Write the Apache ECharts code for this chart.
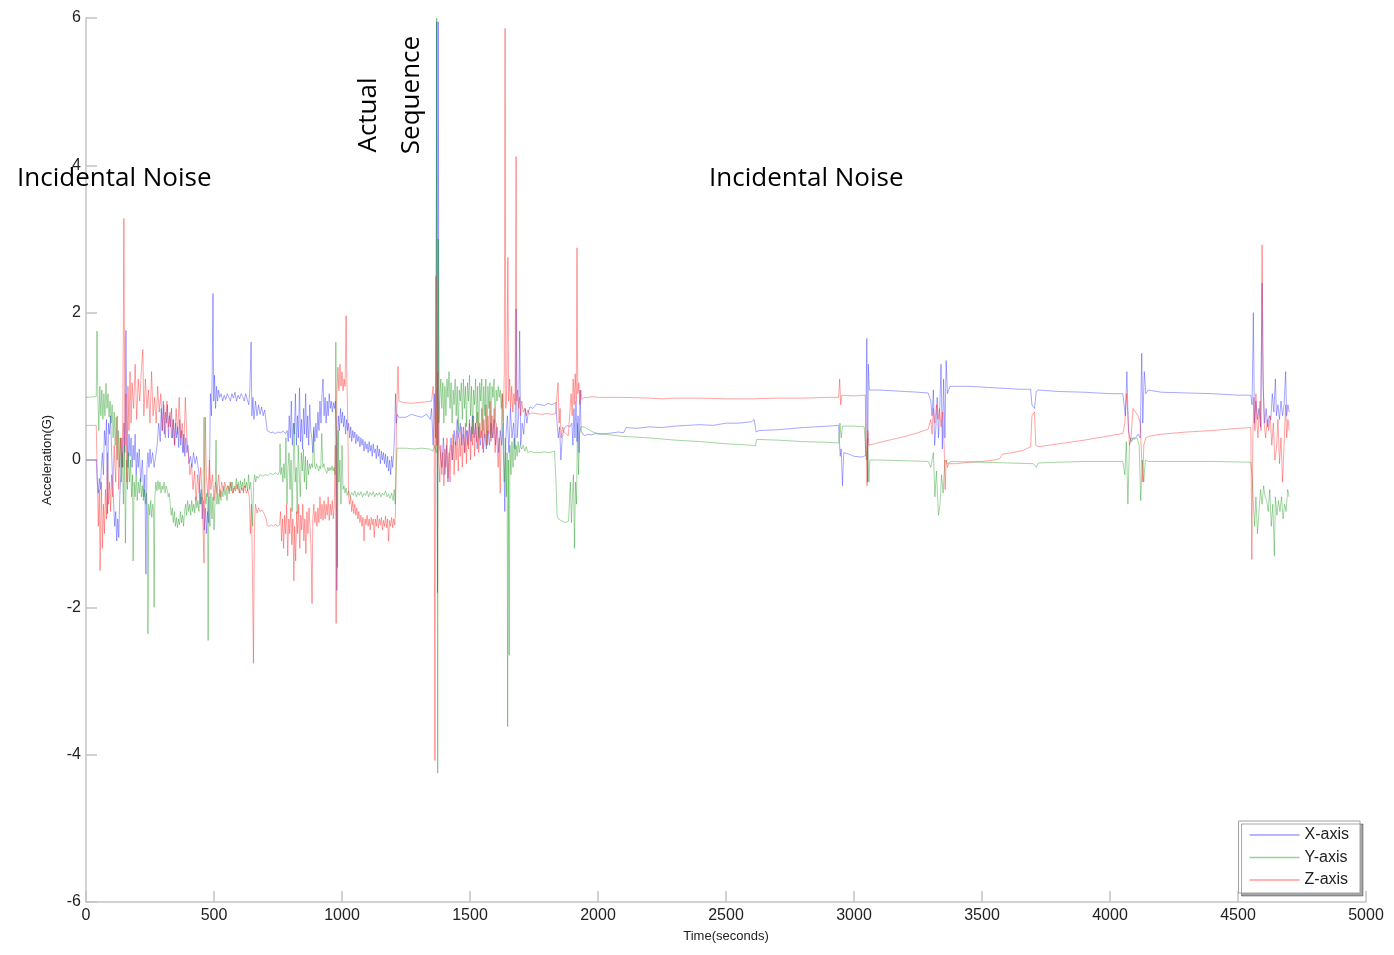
<!DOCTYPE html>
<html>
<head>
<meta charset="utf-8">
<script src="https://cdn.jsdelivr.net/npm/echarts@6/dist/echarts.min.js"></script>
<style>
html,body{margin:0;padding:0;background:#fff;}
#chart{width:1394px;height:955px;}
</style>
</head>
<body>
<div id="chart"></div>
<script>
// ---- data: [time (s), acceleration (G)] ----
const seriesNames = ['X-axis', 'Y-axis', 'Z-axis'];
const yTickValues = [-6, -4, -2, 0, 2, 4, 6];

const accelX = [
[0,0],[40,0],[44,-0.3],[48,-0.45],[52,-0.25],[56,-0.4],[60,-0.1],[64,0.1],[68,-0.2],[72,0.4],[76,0.2],[80,0.55],[84,-0.73],[88,0.5],[92,0.35],[96,0.6],[100,0.1],[104,-0.3],[108,-0.6],[112,-0.9],[116,-0.7],[120,-1.1],[124,-0.8],[128,-1.05],[132,-0.5],[136,-0.2],[140,0.3],[144,-0.1],[148,0.5],[152,0.1],[156,1.76],[160,0.3],[164,-0.1],[168,0.35],[172,0.05],[176,0.3],[180,-0.1],[184,0.2],[188,0.0],[192,0.35],[196,-0.2],[200,0.1],[204,-0.1],[208,0.15],[214,-0.3],[220,0.0],[226,-0.5],[230,-0.2],[234,-1.55],[238,-0.1],[242,0.1],[246,-0.1],[250,0.15],[254,-0.05],[260,0.1],[266,-0.1],[272,0.05],[278,0.2],[284,0.5],[290,0.25],[294,0.7],[298,0.4],[302,0.8],[306,0.35],[310,0.65],[314,0.5],[318,0.75],[322,0.3],[326,0.6],[330,0.45],[334,0.7],[338,0.3],[342,0.55],[346,0.2],[350,0.5],[354,0.3],[358,0.45],[362,0.17],[366,0.55],[370,0.2],[374,0.4],[378,0.1],[382,0.35],[386,0.05],[390,0.3],[394,0.1],[398,0.2],[402,-0.05],[408,0.05],[414,-0.1],[420,0.1],[426,-0.05],[432,0.05],[438,-0.1],[442,-0.2],[446,-0.6],[450,-0.4],[454,-0.8],[458,-0.55],[462,-0.95],[466,-0.65],[470,-1.0],[474,-0.7],[478,-0.85],[482,-0.3],[486,0.9],[490,0.6],[493,1.2],[496,2.26],[499,0.8],[502,1.15],[506,0.7],[510,1.0],[514,0.8],[518,0.95],[522,0.85],[528,0.9],[534,0.8],[540,0.88],[546,0.82],[552,0.9],[558,0.85],[564,0.8],[570,0.9],[576,0.84],[582,0.92],[588,0.8],[594,0.88],[600,0.83],[606,0.9],[612,0.86],[618,0.8],[624,0.9],[630,0.82],[636,0.75],[640,0.95],[645,1.6],[648,0.6],[652,0.85],[656,0.55],[662,0.8],[668,0.6],[674,0.75],[680,0.62],[686,0.72],[692,0.6],[698,0.68],[704,0.5],[708,0.4],[714,0.38],[722,0.37],[730,0.38],[740,0.36],[750,0.38],[760,0.37],[770,0.39],[780,0.36],[786,0.4],[790,0.25],[794,0.6],[798,0.3],[802,0.8],[806,0.2],[810,0.5],[814,0.35],[818,0.9],[822,0.2],[826,0.6],[830,0.3],[834,0.98],[838,0.25],[842,0.55],[846,0.15],[850,0.7],[854,0.35],[858,0.9],[862,0.3],[866,0.6],[870,0.2],[874,0.75],[878,0.4],[882,0.3],[886,0.1],[890,0.45],[894,0.25],[898,0.5],[902,0.3],[906,0.65],[910,0.4],[914,0.8],[918,0.5],[922,0.9],[926,1.1],[930,0.6],[934,0.85],[938,0.5],[942,0.8],[946,0.6],[950,0.9],[954,0.7],[958,0.8],[962,0.65],[966,0.78],[970,0.7],[974,0.8],[978,0.3],[980,-1.77],[983,0.2],[986,0.6],[990,0.4],[994,0.7],[998,0.5],[1002,0.65],[1006,0.45],[1010,0.6],[1014,0.35],[1018,0.55],[1022,0.4],[1026,0.5],[1030,0.3],[1034,0.45],[1038,0.25],[1042,0.4],[1046,0.3],[1050,0.38],[1054,0.22],[1058,0.35],[1062,0.25],[1066,0.32],[1070,0.18],[1074,0.3],[1078,0.2],[1082,0.28],[1086,0.12],[1090,0.25],[1094,0.15],[1098,0.22],[1102,0.1],[1106,0.25],[1110,0.12],[1114,0.2],[1118,0.05],[1122,0.22],[1126,0.1],[1130,0.15],[1134,0.02],[1138,0.2],[1142,0.05],[1146,0.15],[1150,-0.05],[1154,0.12],[1158,0.0],[1162,0.1],[1166,-0.05],[1170,0.08],[1174,-0.1],[1178,0.05],[1182,-0.15],[1186,0.0],[1190,-0.2],[1194,0.05],[1198,-0.1],[1202,0.1],[1206,0.4],[1209,0.9],[1212,0.5],[1216,0.62],[1222,0.58],[1228,0.6],
[1250,0.58],[1270,0.62],[1290,0.6],[1310,0.58],[1330,0.62],[1345,0.55],[1350,0.7],[1356,0.2],[1362,0.9],[1366,0.3],[1370,5.95],[1373,-1.8],[1376,5.95],[1379,0.2],[1384,0.1],[1390,-0.1],[1396,0.3],[1402,-0.2],[1408,0.2],[1414,-0.3],[1420,0.1],[1426,0.3],[1432,0.0],[1438,0.4],[1444,0.2],[1450,0.55],[1456,0.3],[1462,0.5],[1468,0.2],[1474,0.45],[1480,0.1],[1486,0.4],[1492,0.2],[1498,0.5],[1504,0.25],[1510,0.6],[1516,0.3],[1522,0.5],[1528,0.15],[1534,0.45],[1540,0.2],[1546,0.4],[1552,0.1],[1558,0.35],[1564,0.15],[1570,0.4],[1576,0.2],[1582,0.5],[1588,0.3],[1594,0.55],[1600,0.2],[1606,0.45],[1612,0.1],[1618,0.4],[1624,0.2],[1630,0.5],[1636,-0.7],[1640,0.3],[1646,0.6],[1652,0.1],[1658,0.7],[1664,0.3],[1670,0.5],[1676,0.15],[1680,2.05],[1684,0.3],[1690,0.6],[1694,1.75],[1698,0.2],[1704,0.5],[1710,0.35],[1716,0.7],[1722,0.5],[1728,0.65],[1734,0.72],[1745,0.7],[1760,0.76],[1775,0.75],[1790,0.74],[1805,0.77],[1820,0.75],[1835,0.78],[1840,0.5],[1845,0.3],[1850,0.45],[1855,0.0],[1860,0.3],[1866,0.4],[1872,0.45],[1880,0.47],[1890,0.45],[1898,0.5],[1902,0.2],[1906,0.7],[1910,0.3],[1914,0.8],[1918,0.25],[1922,0.6],[1926,0.1],[1930,0.95],[1934,0.4],[1940,0.35],[1950,0.33],[1960,0.35],[1975,0.34],[1990,0.36],
[2005,0.35],[2040,0.36],[2080,0.38],[2100,0.37],[2110,0.44],[2150,0.43],[2200,0.45],[2250,0.44],[2300,0.46],[2350,0.47],[2400,0.48],[2450,0.47],[2500,0.5],[2550,0.5],[2600,0.52],[2610,0.55],[2618,0.38],[2630,0.4],[2700,0.41],[2800,0.44],[2900,0.46],[2940,0.47],[2946,0.05],[2950,0.15],[2955,-0.35],[2960,0.1],[2980,0.08],[3000,0.05],[3030,0.04],[3045,0.06],[3050,1.65],[3053,-0.3],[3056,1.3],[3060,0.95],[3100,0.95],[3150,0.94],[3200,0.93],[3250,0.92],[3290,0.91],[3300,0.8],[3305,0.6],[3310,0.95],[3315,0.2],[3320,0.45],[3325,0.85],[3330,0.3],[3335,0.7],[3340,1.3],[3345,0.15],[3350,1.1],[3355,0.3],[3360,1.35],[3365,0.9],[3375,1.0],[3400,1.0],[3450,1.0],[3500,0.99],[3550,0.98],[3600,0.97],[3650,0.96],[3690,0.96],[3695,0.75],[3705,0.7],[3712,0.93],[3720,0.95],[3800,0.93],[3900,0.92],[4000,0.9],[4050,0.9],[4060,0.6],[4066,1.2],[4072,0.4],[4078,0.3],[4084,0.25],[4090,0.3],[4100,0.3],[4110,0.35],[4118,0.3],[4124,1.45],[4128,0.5],[4134,1.2],[4140,0.9],[4150,0.95],[4200,0.92],[4300,0.91],[4400,0.9],[4500,0.88],[4550,0.88],[4555,0.75],[4560,2.0],[4564,0.5],[4570,0.8],[4576,0.55],[4582,0.7],[4588,0.45],[4594,2.4],[4598,1.0],[4604,0.5],[4610,0.7],[4616,0.45],[4622,0.6],[4628,0.55],[4634,0.9],[4640,0.65],[4646,1.1],[4650,0.6],[4656,0.75],[4662,0.55],[4668,0.8],[4674,0.6],[4680,0.75],[4686,1.2],[4690,0.6],[4695,0.75],[4700,0.65]
];

const accelY = [
[0,0.85],[40,0.86],[43,1.75],[46,0.9],[50,0.4],[54,1.0],[58,0.6],[62,0.95],[66,0.55],[70,0.9],[74,0.6],[78,1.04],[82,0.7],[86,0.9],[90,0.58],[94,0.8],[98,0.5],[102,0.75],[106,0.3],[110,0.65],[114,0.2],[118,0.58],[122,0.0],[126,0.4],[130,-0.1],[134,0.3],[138,-0.3],[142,0.1],[146,-0.6],[150,0.2],[154,-1.13],[158,0.0],[162,-0.4],[166,0.1],[170,-0.3],[174,0.0],[178,-0.5],[182,-0.2],[184,-1.37],[188,-0.3],[192,-0.5],[196,-0.2],[200,-0.55],[204,-0.3],[208,-0.45],[212,-0.25],[216,-0.5],[220,-0.35],[224,-0.55],[228,-0.4],[232,-0.6],[236,-0.45],[240,-0.7],[242,-2.36],[245,-0.6],[249,-0.75],[253,-0.55],[257,-0.78],[261,-0.6],[264,-0.7],[266,-2.0],[269,-0.5],[273,-0.3],[277,-0.42],[281,-0.28],[285,-0.4],[289,-0.3],[293,-0.45],[297,-0.35],[301,-0.4],[305,-0.3],[309,-0.45],[313,-0.35],[317,-0.4],[321,-0.5],[325,-0.45],[329,-0.6],[333,-0.75],[337,-0.65],[341,-0.85],[345,-0.7],[349,-0.9],[353,-0.78],[357,-0.92],[361,-0.8],[365,-0.88],[369,-0.7],[373,-0.85],[377,-0.75],[381,-0.9],[385,-0.7],[389,-0.6],[393,-0.75],[397,-0.55],[401,-0.7],[405,-0.6],[409,-0.75],[413,-0.55],[417,-0.7],[421,-0.6],[425,-0.72],[429,-0.5],[433,-0.65],[437,-0.55],[441,-0.7],[445,-0.45],[449,-0.6],[453,-0.5],[457,-0.55],[461,0.58],[464,-0.4],[468,-0.6],[472,-0.45],[475,-0.7],[477,-2.45],[480,-0.5],[484,-0.9],[488,-0.45],[492,-0.8],[496,-0.5],[500,-0.95],[504,-0.55],[508,0.27],[511,-0.6],[515,-0.45],[519,-0.6],[523,-0.4],[527,-0.55],[531,-0.42],[535,-0.5],[539,-0.35],[543,-0.48],[547,-0.4],[551,-0.55],[555,-0.35],[559,-0.46],[563,-0.3],[567,-0.42],[571,-0.3],[575,-0.45],[579,-0.35],[583,-0.4],[587,-0.25],[591,-0.4],[595,-0.3],[599,-0.45],[603,-0.28],[607,-0.4],[611,-0.3],[615,-0.45],[619,-0.25],[623,-0.38],[627,-0.3],[631,-0.42],[635,-0.2],[639,-0.4],[643,-0.3],[647,-0.5],[651,-0.9],[655,-0.3],[659,-0.2],[663,-0.3],[667,-0.22],[672,-0.25],[680,-0.2],[690,-0.22],[700,-0.2],[710,-0.21],[720,-0.18],[730,-0.2],[740,-0.17],[750,-0.2],[756,-0.15],[758,0.22],[761,-0.2],[765,-0.1],[769,-0.3],[773,-0.05],[777,-0.25],[781,0.3],[785,-0.6],[789,-0.1],[793,0.1],[797,-0.4],[801,0.0],[805,-0.7],[809,-0.15],[813,0.5],[817,-0.3],[821,-0.1],[825,-0.73],[829,0.2],[833,-0.2],[837,-0.5],[841,0.1],[845,-0.15],[849,0.15],[853,-0.3],[857,0.05],[861,-0.4],[865,0.0],[869,-0.2],[873,-0.05],[877,-0.12],[881,-0.05],[885,-0.1],[889,0.4],[893,-0.08],[897,-0.12],[901,-0.05],[905,-0.1],[909,-0.15],[913,-0.08],[917,-0.12],[921,0.36],[925,-0.1],[929,-0.05],[933,-0.12],[937,-0.1],[941,-0.18],[945,-0.1],[949,-0.15],[953,-0.1],[957,-0.14],[961,-0.08],[965,-0.15],[969,-0.1],[973,-0.2],[976,1.6],[979,-0.3],[982,-1.46],[985,0.4],[988,-0.3],[992,0.0],[996,-0.6],[1000,0.2],[1004,-0.4],[1008,-0.35],[1012,-0.45],[1016,-0.38],[1020,-0.48],[1026,-0.42],[1032,-0.5],[1038,-0.44],[1044,-0.48],[1050,-0.42],[1056,-0.5],[1062,-0.44],[1068,-0.48],[1074,-0.43],[1080,-0.5],[1086,-0.45],[1092,-0.48],[1098,-0.42],[1104,-0.5],[1110,-0.44],[1116,-0.48],[1122,-0.43],[1128,-0.5],[1134,-0.45],[1140,-0.48],[1146,-0.44],[1152,-0.5],[1158,-0.45],[1164,-0.48],[1170,-0.42],[1176,-0.5],[1182,-0.46],[1188,-0.52],[1194,-0.45],[1200,-0.55],[1204,-0.4],[1208,-0.6],[1212,-0.1],[1215,0.16],[1222,0.15],
[1250,0.16],[1280,0.15],[1310,0.16],[1340,0.15],[1355,0.12],[1362,0.2],[1368,0.1],[1370,6.0],[1372,-1.0],[1374,-4.25],[1376,3.0],[1378,0.5],[1382,0.8],[1386,1.1],[1390,0.7],[1394,1.05],[1398,0.5],[1402,1.0],[1406,0.6],[1410,1.1],[1414,0.85],[1418,1.2],[1422,0.7],[1426,1.05],[1430,0.5],[1434,0.95],[1438,0.75],[1442,1.1],[1446,0.6],[1450,1.0],[1454,0.4],[1458,0.95],[1462,0.8],[1466,1.05],[1470,0.55],[1474,1.1],[1478,0.7],[1482,1.0],[1486,0.45],[1490,1.05],[1494,0.8],[1498,1.15],[1502,0.6],[1506,1.0],[1510,0.35],[1514,0.95],[1518,0.75],[1522,1.1],[1526,0.5],[1530,1.0],[1534,0.3],[1538,1.05],[1542,0.8],[1546,1.1],[1550,0.4],[1554,1.0],[1558,0.6],[1562,1.1],[1566,0.2],[1570,1.0],[1574,0.7],[1578,1.05],[1582,0.3],[1586,1.0],[1590,0.85],[1594,1.1],[1598,0.5],[1602,0.95],[1606,0.8],[1610,1.0],[1614,0.85],[1618,0.95],[1622,0.7],[1626,0.9],[1630,0.1],[1634,-0.3],[1638,0.3],[1642,-0.5],[1645,0.1],[1647,-3.62],[1650,0.0],[1653,-2.65],[1656,0.2],[1660,-0.2],[1664,0.25],[1668,-0.1],[1672,0.3],[1676,0.0],[1680,0.2],[1684,0.05],[1688,0.25],[1692,0.1],[1696,0.2],[1702,0.15],[1708,0.2],[1714,0.12],[1720,0.18],[1726,0.1],[1735,0.12],[1750,0.1],[1770,0.1],[1790,0.11],[1810,0.1],[1830,0.12],[1836,-0.3],[1840,-0.75],[1845,-0.8],[1855,-0.82],[1865,-0.84],[1875,-0.85],[1885,-0.83],[1892,-0.3],[1896,-0.85],[1900,-0.5],[1904,-0.2],[1908,-1.2],[1912,-0.3],[1916,-0.6],[1920,0.5],[1924,-0.2],[1928,0.35],[1934,0.45],[1945,0.45],[1960,0.42],[1980,0.38],
[2000,0.36],[2050,0.34],[2100,0.32],[2200,0.3],[2300,0.27],[2400,0.25],[2500,0.22],[2600,0.2],[2615,0.19],[2620,0.28],[2700,0.27],[2800,0.25],[2900,0.24],[2940,0.23],[2945,0.5],[2950,0.3],[2955,0.46],[3000,0.46],[3040,0.45],[3048,0.0],[3053,0.3],[3058,-0.3],[3062,0.0],[3100,0.0],[3200,-0.01],[3290,-0.02],[3300,-0.1],[3310,0.1],[3316,-0.5],[3322,-0.15],[3330,-0.75],[3336,-0.6],[3342,-0.2],[3348,-0.45],[3355,0.0],[3365,-0.05],[3380,-0.02],[3500,-0.03],[3600,-0.04],[3700,-0.05],[3712,-0.1],[3720,-0.04],[3800,-0.03],[3900,-0.02],[4000,-0.02],[4050,-0.02],[4058,-0.2],[4064,0.25],[4070,-0.6],[4076,0.2],[4082,0.3],[4094,0.28],[4106,0.3],[4114,0.2],[4120,-0.55],[4126,0.0],[4132,-0.3],[4138,0.0],[4150,-0.02],[4300,-0.02],[4400,-0.02],[4550,-0.03],[4555,-0.2],[4560,-0.6],[4565,-0.9],[4570,-0.5],[4576,-1.0],[4582,-0.7],[4588,-0.4],[4594,-0.6],[4600,-0.35],[4606,-0.5],[4612,-0.55],[4618,-0.7],[4624,-0.4],[4630,-0.9],[4636,-0.6],[4642,-1.3],[4646,-0.5],[4652,-0.75],[4658,-0.55],[4664,-0.7],[4670,-0.5],[4676,-0.8],[4682,-0.6],[4688,-0.7],[4694,-0.4],[4700,-0.5]
];

const accelZ = [
[0,0.47],[40,0.47],[44,-0.2],[48,-0.9],[52,-0.4],[55,-1.5],[60,-0.3],[64,-1.2],[68,-0.6],[72,-1.0],[76,-0.4],[80,-0.8],[84,0.1],[88,-0.6],[92,-0.3],[96,-0.7],[100,-0.2],[104,-0.5],[110,0.2],[116,-0.3],[122,0.6],[128,-0.4],[134,0.3],[140,-0.1],[144,0.6],[148,3.28],[152,0.2],[156,0.9],[160,-0.3],[164,1.0],[168,0.4],[172,1.2],[176,0.5],[180,1.05],[186,0.7],[192,1.3],[198,0.55],[204,1.1],[210,0.8],[216,1.2],[222,1.5],[226,0.6],[232,1.1],[238,0.7],[244,0.95],[250,0.5],[256,1.2],[262,0.6],[268,0.85],[274,0.5],[280,1.0],[286,0.65],[292,0.9],[298,0.4],[304,0.75],[310,0.3],[316,0.8],[322,0.45],[328,0.65],[334,0.3],[340,0.55],[346,0.2],[352,0.7],[358,0.35],[364,0.85],[370,0.3],[376,0.5],[382,0.1],[388,0.85],[394,0.3],[400,0.1],[406,-0.2],[412,-0.05],[418,-0.4],[424,-0.15],[430,-0.55],[436,-0.2],[442,-0.45],[448,-0.1],[454,-0.5],[461,-1.4],[466,0.58],[470,-0.2],[476,-0.5],[482,0.0],[488,-0.4],[494,-0.2],[500,-0.55],[506,-0.3],[512,-0.45],[518,-0.2],[524,-0.5],[530,-0.3],[536,-0.42],[542,-0.3],[548,-0.4],[554,-0.35],[560,-0.42],[566,-0.3],[572,-0.45],[578,-0.38],[584,-0.42],[590,-0.33],[596,-0.4],[602,-0.45],[608,-0.38],[614,-0.42],[620,-0.35],[626,-0.45],[632,-0.4],[638,-0.5],[642,-1.0],[646,-0.6],[650,-1.45],[654,-2.76],[658,-0.9],[662,-0.6],[668,-0.72],[674,-0.65],[680,-0.7],[688,-0.68],[696,-0.73],[704,-0.8],[708,-0.89],[716,-0.9],[724,-0.88],[732,-0.9],[740,-0.87],[748,-0.9],[756,-0.88],[760,-0.7],[764,-1.1],[768,-0.8],[772,-1.2],[776,-0.75],[780,-1.0],[784,-0.6],[788,-1.3],[792,-0.8],[796,-1.0],[800,-0.65],[804,-1.15],[808,-0.8],[812,-1.64],[815,-0.9],[819,-1.37],[823,-0.7],[827,-1.0],[831,-0.6],[835,-1.2],[839,-0.75],[843,-0.95],[847,-0.6],[851,-1.1],[855,-0.8],[859,-1.27],[863,-0.7],[867,-1.0],[871,-0.65],[875,-0.9],[879,-1.2],[883,-1.95],[886,-0.8],[890,-0.6],[894,-0.85],[898,-0.7],[902,-0.9],[906,-0.65],[910,-0.85],[914,-0.5],[918,-0.8],[922,-0.6],[926,-0.82],[930,-0.55],[934,-0.8],[938,-0.6],[942,-0.75],[946,-0.5],[950,-0.82],[954,-0.6],[958,-0.75],[962,-0.55],[966,-0.8],[970,-0.6],[974,0.2],[977,-2.22],[980,0.9],[984,1.26],[988,0.94],[992,1.3],[996,1.0],[1000,1.2],[1004,0.94],[1008,1.1],[1012,1.0],[1016,1.96],[1019,1.1],[1022,0.6],[1026,-0.5],[1030,-0.6],[1034,-0.5],[1038,-0.7],[1042,-0.55],[1046,-0.73],[1050,-0.6],[1054,-0.75],[1058,-0.65],[1062,-0.8],[1066,-0.7],[1070,-0.85],[1074,-0.75],[1078,-0.9],[1082,-0.78],[1086,-1.1],[1090,-0.8],[1094,-0.88],[1098,-0.75],[1102,-0.9],[1106,-0.8],[1110,-0.95],[1114,-0.78],[1118,-0.88],[1122,-0.8],[1126,-1.05],[1130,-0.8],[1134,-0.9],[1138,-0.75],[1142,-0.92],[1146,-0.8],[1150,-0.88],[1154,-0.78],[1158,-0.95],[1162,-0.82],[1166,-0.9],[1170,-0.76],[1174,-0.92],[1178,-0.8],[1182,-1.1],[1186,-0.82],[1190,-0.9],[1194,-0.78],[1198,-0.92],[1202,-0.8],[1206,-0.88],[1209,-0.7],[1212,0.3],[1215,0.85],[1219,1.27],[1222,0.8],
[1240,0.78],[1270,0.77],[1300,0.78],[1330,0.79],[1350,0.8],[1356,1.0],[1360,0.6],[1363,-4.08],[1365,0.5],[1367,2.5],[1370,0.2],[1374,1.2],[1378,0.0],[1382,-0.3],[1386,0.2],[1390,-0.2],[1394,0.1],[1398,-0.35],[1402,0.15],[1406,-0.1],[1410,0.3],[1414,-0.25],[1418,0.1],[1422,-0.3],[1426,0.2],[1430,0.0],[1434,0.35],[1438,-0.2],[1442,0.25],[1446,0.0],[1450,0.4],[1454,-0.15],[1458,0.3],[1462,0.05],[1466,0.45],[1470,-0.1],[1474,0.35],[1478,0.1],[1482,0.5],[1486,-0.05],[1490,0.4],[1494,0.15],[1498,0.55],[1502,0.0],[1506,0.45],[1510,0.2],[1514,0.6],[1518,0.05],[1522,0.5],[1526,0.25],[1530,0.65],[1534,0.1],[1538,0.5],[1542,0.3],[1546,0.7],[1550,0.15],[1554,0.55],[1558,0.3],[1562,0.75],[1566,0.2],[1570,0.6],[1574,0.35],[1578,0.8],[1582,0.25],[1586,0.6],[1590,0.3],[1594,0.7],[1598,0.1],[1602,0.5],[1606,0.2],[1610,-0.1],[1614,0.3],[1618,-0.45],[1622,0.4],[1626,0.9],[1630,0.5],[1634,1.2],[1637,5.86],[1640,0.7],[1644,1.0],[1648,2.75],[1651,0.8],[1655,1.1],[1659,0.7],[1663,1.0],[1667,0.65],[1671,0.9],[1676,0.75],[1680,4.12],[1683,0.8],[1686,0.95],[1690,0.7],[1694,0.85],[1698,0.6],[1702,0.8],[1708,0.65],[1714,0.7],[1720,0.6],[1726,0.68],[1732,0.62],[1740,0.64],[1760,0.63],[1780,0.62],[1800,0.63],[1820,0.62],[1835,0.63],[1840,0.9],[1844,1.05],[1848,0.5],[1852,0.7],[1856,0.3],[1862,0.45],[1868,0.38],[1876,0.35],[1884,0.33],[1890,0.32],[1895,0.9],[1899,0.6],[1903,1.1],[1907,0.75],[1911,1.17],[1915,0.8],[1918,2.88],[1921,0.9],[1925,1.05],[1929,0.75],[1933,0.95],[1937,0.82],[1945,0.85],[1960,0.85],[1980,0.86],
[2000,0.85],[2100,0.85],[2200,0.84],[2250,0.83],[2300,0.84],[2400,0.84],[2500,0.83],[2600,0.83],[2700,0.84],[2800,0.84],[2900,0.85],[2940,0.85],[2944,1.1],[2948,0.75],[2952,0.88],[3000,0.87],[3044,0.88],[3048,0.2],[3051,-0.35],[3054,0.4],[3058,0.2],[3100,0.24],[3150,0.28],[3200,0.32],[3250,0.37],[3290,0.42],[3300,0.55],[3305,0.35],[3310,0.7],[3316,0.5],[3322,0.75],[3328,0.55],[3334,0.7],[3340,0.45],[3346,0.65],[3352,0.2],[3356,-0.4],[3360,0.0],[3365,-0.1],[3370,-0.05],[3400,-0.05],[3450,-0.03],[3500,-0.02],[3550,0.0],[3570,0.02],[3580,0.08],[3620,0.1],[3660,0.13],[3690,0.18],[3695,0.6],[3705,0.65],[3710,0.2],[3720,0.18],[3800,0.22],[3900,0.27],[4000,0.33],[4050,0.36],[4058,0.5],[4064,0.9],[4070,0.6],[4076,0.2],[4082,0.3],[4090,0.7],[4100,0.65],[4110,0.6],[4118,0.5],[4124,0.0],[4128,-0.3],[4132,0.2],[4140,0.3],[4150,0.32],[4200,0.35],[4300,0.38],[4400,0.4],[4500,0.43],[4550,0.44],[4554,-1.35],[4558,0.3],[4562,0.85],[4566,0.4],[4570,0.9],[4574,0.5],[4578,0.3],[4582,0.6],[4586,0.8],[4590,0.4],[4594,2.92],[4598,1.2],[4602,0.5],[4608,0.3],[4614,0.55],[4620,0.4],[4626,0.6],[4632,0.2],[4638,0.5],[4644,0.0],[4650,0.15],[4656,0.55],[4662,-0.05],[4668,0.3],[4674,-0.3],[4680,0.2],[4686,0.75],[4690,0.3],[4695,0.55],[4700,0.4]
];

const lineColors = ['rgba(40,40,255,0.45)', 'rgba(0,140,0,0.4)', 'rgba(255,30,30,0.45)'];
const annotationTexts = ['Incidental Noise', 'Actual', 'Sequence', 'Incidental Noise'];

// ---- chart ----
const chart = echarts.init(document.getElementById('chart'), null, {renderer: 'canvas'});
const axisGray = '#c4c4c4';
const labelFont = {fontFamily: 'Liberation Sans, Arial, sans-serif', fontSize: 16, color: '#222'};
const allSeries = [accelX, accelY, accelZ].map((d, i) => ({
  name: seriesNames[i],
  type: 'line',
  data: d,
  showSymbol: false,
  symbol: 'none',
  animation: false,
  lineStyle: {width: 0.9, color: lineColors[i]},
  itemStyle: {color: lineColors[i]},
  emphasis: {disabled: true}
}));

const annoFont = '26px "Open Sans", "Noto Sans", sans-serif';
chart.setOption({
  animation: false,
  backgroundColor: '#fff',
  grid: {left: 86, right: 28, top: 18, bottom: 53, containLabel: false},
  xAxis: {
    type: 'value', min: 0, max: 5000, interval: 500,
    name: 'Time(seconds)', nameLocation: 'middle', nameGap: 28,
    nameTextStyle: {fontFamily: 'Liberation Sans, Arial, sans-serif', fontSize: 13, color: '#222'},
    axisLine: {show: true, onZero: false, lineStyle: {color: axisGray, width: 1.5}},
    axisTick: {show: true, inside: true, length: 11, lineStyle: {color: axisGray, width: 1.5}},
    axisLabel: Object.assign({margin: 6, formatter: v => String(v)}, labelFont),
    splitLine: {show: false}
  },
  yAxis: {
    type: 'value', min: yTickValues[0], max: yTickValues[yTickValues.length - 1], interval: 2,
    name: 'Acceleration(G)', nameLocation: 'middle', nameGap: 32, nameRotate: 90,
    nameTextStyle: {fontFamily: 'Liberation Sans, Arial, sans-serif', fontSize: 13, color: '#222'},
    axisLine: {show: true, onZero: false, lineStyle: {color: axisGray, width: 1.5}},
    axisTick: {show: true, inside: true, length: 11, lineStyle: {color: axisGray, width: 1.5}},
    axisLabel: Object.assign({margin: 5, formatter: v => String(v)}, labelFont),
    splitLine: {show: false}
  },
  legend: {
    orient: 'vertical',
    right: 34, bottom: 62,
    data: seriesNames,
    icon: 'rect',
    itemWidth: 50, itemHeight: 1.5,
    itemGap: 4.5,
    padding: [5, 11, 4, 11],
    backgroundColor: '#fff',
    borderColor: '#a0a0a0', borderWidth: 1,
    shadowColor: 'rgba(0,0,0,0.35)', shadowOffsetX: 3, shadowOffsetY: 3, shadowBlur: 0,
    textStyle: {fontFamily: 'Liberation Sans, Arial, sans-serif', fontSize: 16, color: '#222', lineHeight: 18},
    selectedMode: false
  },
  graphic: [
    {type: 'text', z: 100, left: 17, top: 166, style: {text: annotationTexts[0], font: annoFont, fill: '#000'}},
    {type: 'text', z: 100, x: 369, y: 115, rotation: Math.PI / 2, style: {text: annotationTexts[1], font: annoFont, fill: '#000', textAlign: 'center', textVerticalAlign: 'middle'}},
    {type: 'text', z: 100, x: 412, y: 95, rotation: Math.PI / 2, style: {text: annotationTexts[2], font: annoFont, fill: '#000', textAlign: 'center', textVerticalAlign: 'middle'}},
    {type: 'text', z: 100, left: 709, top: 166, style: {text: annotationTexts[3], font: annoFont, fill: '#000'}}
  ],
  series: allSeries
});
</script>
</body>
</html>
